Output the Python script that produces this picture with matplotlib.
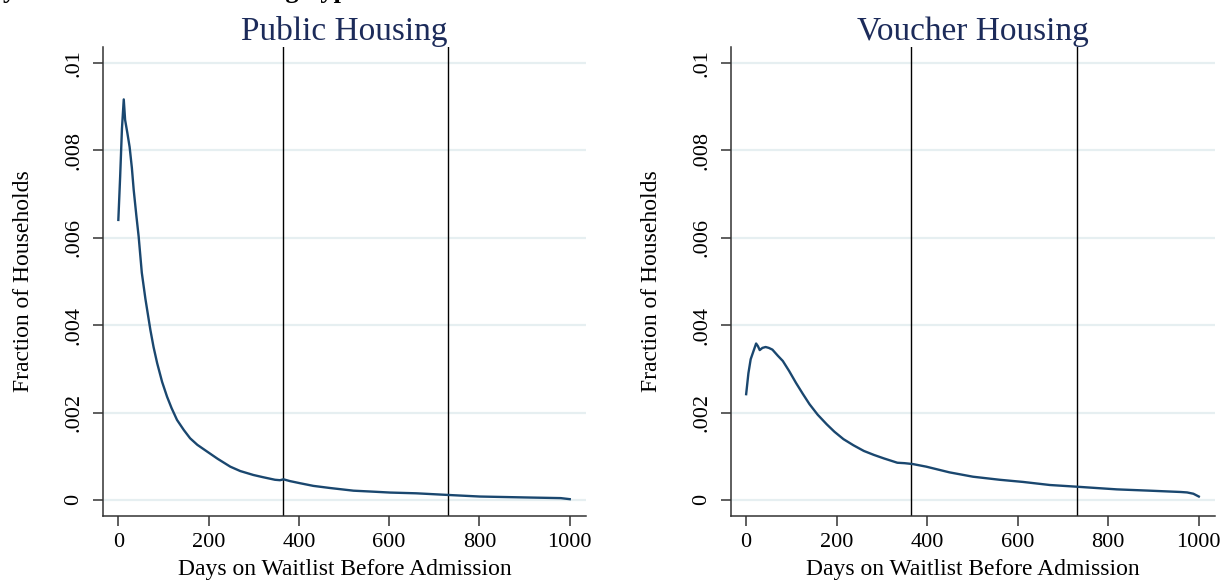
import matplotlib
matplotlib.use("Agg")
import matplotlib.pyplot as plt
import numpy as np

# Public housing density (days on waitlist, fraction of households)
public_days = [0, 4, 8, 12, 15, 20, 25, 30, 34, 40, 45, 52, 60, 71, 78, 86, 97,
               108, 118, 130, 145, 159, 175, 196, 220, 248, 270, 299, 320, 347,
               358, 366, 380, 403, 432, 470, 521, 560, 602, 660, 727, 801, 912,
               980, 1000]
public_frac = [0.00641, 0.0074, 0.0085, 0.00917, 0.0087, 0.0084, 0.00808,
               0.0076, 0.0071, 0.0065, 0.00603, 0.0052, 0.0046, 0.00389, 0.0035,
               0.00313, 0.0027, 0.00236, 0.0021, 0.00183, 0.0016, 0.00141,
               0.00126, 0.00111, 0.00094, 0.00076, 0.00066, 0.00057, 0.00052,
               0.00046, 0.00045, 0.00047, 0.00043, 0.00038, 0.00032, 0.00027,
               0.00021, 0.00019, 0.000167, 0.00015, 0.000114, 0.000076,
               0.000053, 0.00004, 0.000016]

# Voucher housing density
voucher_days = [0, 5, 10, 16, 22, 26, 30, 36, 43, 50, 58, 70, 81, 95, 110, 125,
                140, 158, 178, 195, 215, 237, 260, 282, 304, 334, 350, 368,
                398, 449, 501, 560, 612, 671, 732, 819, 892, 960, 974, 988, 1000]
voucher_frac = [0.00242, 0.0029, 0.00322, 0.0034, 0.00358, 0.00352, 0.00343,
                0.00348, 0.0035, 0.00348, 0.00344, 0.0033, 0.00318, 0.00295,
                0.00268, 0.00243, 0.00219, 0.00195, 0.00173, 0.00156, 0.00139,
                0.00125, 0.00112, 0.00103, 0.00095, 0.00085, 0.00084, 0.00082,
                0.00076, 0.00063, 0.00053, 0.00046, 0.00041, 0.00034, 0.0003,
                0.00024, 0.00021, 0.00018, 0.00017, 0.00014, 0.000076]

panel_titles = ["Public Housing", "Voucher Housing"]
cutoff_days = [365, 730]
x_ticks = [0, 200, 400, 600, 800, 1000]
y_ticks = [0, 0.002, 0.004, 0.006, 0.008, 0.01]
y_tick_labels = ["0", ".002", ".004", ".006", ".008", ".01"]

plt.rcParams["font.family"] = ["Liberation Serif", "DejaVu Serif"]

fig = plt.figure(figsize=(12.29, 5.83), dpi=100)
ax_left = fig.add_axes([0.0838, 0.1149, 0.3930, 0.8045])
ax_right = fig.add_axes([0.5946, 0.1149, 0.3941, 0.8045])

series = [(public_days, public_frac), (voucher_days, voucher_frac)]

for ax, (days, frac), title in zip([ax_left, ax_right], series, panel_titles):
    for yt in y_ticks:
        ax.axhline(yt, color="#e6eff1", lw=1.6, zorder=0)
    for cd in cutoff_days:
        ax.axvline(cd, color="black", lw=1.0, zorder=1)
    ax.plot(days, frac, color="#1a476f", lw=1.7, zorder=2,
            solid_joinstyle="round")

    ax.set_xlim(-34, 1036)
    ax.set_ylim(-0.00037, 0.01037)
    ax.set_xticks(x_ticks)
    ax.set_yticks(y_ticks)
    ax.set_yticklabels(y_tick_labels, rotation=90, va="center")
    ax.tick_params(axis="both", labelsize=16, length=7, width=1.1, color="#333333")
    ax.tick_params(axis="x", pad=5)
    ax.tick_params(axis="y", pad=7)
    for side in ["top", "right"]:
        ax.spines[side].set_visible(False)
    for side in ["left", "bottom"]:
        ax.spines[side].set_linewidth(1.1)
        ax.spines[side].set_color("#333333")

    ax.set_title(title, fontsize=24, color="#1c2b5a", pad=5)
    ax.set_xlabel("Days on Waitlist Before Admission", fontsize=17, labelpad=5)
    ax.set_ylabel("Fraction of Households", fontsize=17, labelpad=22)

# caption above the panels, mostly cut off by the top edge
fig.text(370 / 1229, 1 + 2 / 583, "Figure 3: Density of Wait Time in Housing Types",
         ha="right", va="baseline", fontsize=19, fontweight="bold")

fig.savefig("out.png", dpi=100)
